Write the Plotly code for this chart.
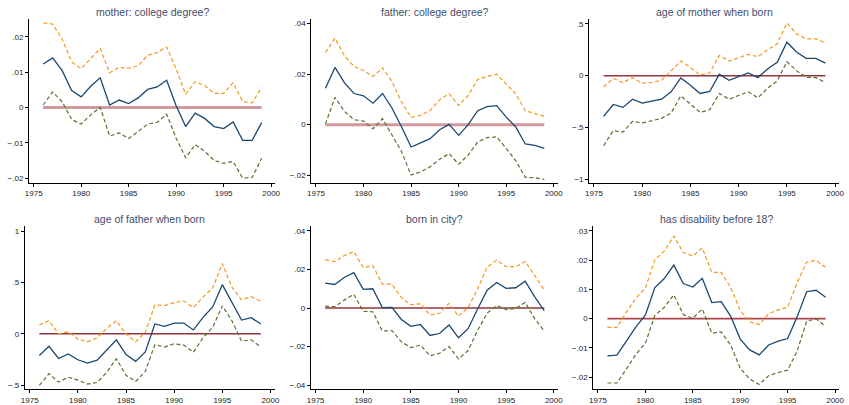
import plotly.graph_objects as go

years = list(range(1976, 2000))

titles = ["mother: college degree?", "father: college degree?", "age of mother when born",
          "age of father when born", "born in city?", "has disability before 18?"]

# panel 1: mother college degree
p1_est = [0.0123, 0.0140, 0.0104, 0.0048, 0.0030, 0.0060, 0.0084, 0.0007, 0.0021, 0.0011, 0.0027, 0.0051,
          0.0058, 0.0077, 0.0005, -0.0054, -0.0016, -0.0031, -0.0054, -0.0060, -0.0041, -0.0093, -0.0093, -0.0043]
p1_hi = [0.0239, 0.0236, 0.0193, 0.0129, 0.0110, 0.0139, 0.0167, 0.0098, 0.0114, 0.0111, 0.0118, 0.0148,
         0.0155, 0.0171, 0.0109, 0.0037, 0.0073, 0.0062, 0.0040, 0.0040, 0.0070, 0.0017, 0.0013, 0.0057]
p1_lo = [0.0007, 0.0044, 0.0016, -0.0034, -0.0047, -0.0021, 0.0000, -0.0081, -0.0072, -0.0088, -0.0068, -0.0047,
         -0.0042, -0.0019, -0.0087, -0.0142, -0.0105, -0.0124, -0.0150, -0.0158, -0.0153, -0.0200, -0.0198, -0.0144]

# panel 2: father college degree
p2_est = [0.0144, 0.0226, 0.0165, 0.0123, 0.0114, 0.0085, 0.0123, 0.0065, -0.0009, -0.0088, -0.0072, -0.0055,
          -0.0020, 0.0001, -0.0042, 0.0000, 0.0055, 0.0071, 0.0075, 0.0030, -0.0009, -0.0076, -0.0082, -0.0093]
p2_hi = [0.0285, 0.0341, 0.0272, 0.0230, 0.0214, 0.0190, 0.0224, 0.0170, 0.0089, 0.0029, 0.0037, 0.0056,
         0.0098, 0.0122, 0.0076, 0.0116, 0.0178, 0.0191, 0.0199, 0.0160, 0.0122, 0.0055, 0.0043, 0.0033]
p2_lo = [0.0003, 0.0108, 0.0052, 0.0020, 0.0014, -0.0016, 0.0024, -0.0042, -0.0107, -0.0199, -0.0186, -0.0166,
         -0.0136, -0.0114, -0.0156, -0.0120, -0.0068, -0.0051, -0.0048, -0.0094, -0.0142, -0.0208, -0.0209, -0.0216]

# panel 3: age of mother when born
p3_est = [-0.392, -0.278, -0.306, -0.227, -0.265, -0.249, -0.227, -0.156, -0.022, -0.093, -0.172, -0.153,
          0.013, -0.045, -0.006, 0.026, -0.019, 0.064, 0.128, 0.322, 0.227, 0.166, 0.166, 0.121]
p3_hi = [-0.108, -0.026, -0.067, -0.019, -0.073, -0.064, -0.045, 0.045, 0.140, 0.077, 0.006, 0.026,
         0.195, 0.140, 0.172, 0.204, 0.182, 0.249, 0.306, 0.507, 0.402, 0.354, 0.354, 0.316]
p3_lo = [-0.676, -0.530, -0.545, -0.440, -0.456, -0.437, -0.412, -0.360, -0.195, -0.274, -0.354, -0.329,
         -0.172, -0.227, -0.191, -0.156, -0.214, -0.121, -0.051, 0.134, 0.048, -0.016, -0.019, -0.067]

# panel 4: age of father when born
p4_est = [-0.211, -0.121, -0.240, -0.195, -0.252, -0.284, -0.256, -0.153, -0.058, -0.201, -0.268, -0.176,
          0.096, 0.073, 0.105, 0.105, 0.038, 0.160, 0.262, 0.479, 0.304, 0.134, 0.157, 0.096]
p4_hi = [0.086, 0.128, 0.000, 0.022, -0.051, -0.077, -0.038, 0.054, 0.128, 0.000, -0.077, 0.016,
         0.281, 0.275, 0.304, 0.319, 0.256, 0.358, 0.447, 0.684, 0.454, 0.332, 0.361, 0.319]
p4_lo = [-0.502, -0.387, -0.470, -0.422, -0.450, -0.489, -0.473, -0.374, -0.243, -0.403, -0.463, -0.367,
         -0.105, -0.128, -0.096, -0.109, -0.179, -0.038, 0.064, 0.272, 0.128, -0.070, -0.058, -0.128]

# panel 5: born in city
p5_est = [0.0129, 0.0122, 0.0158, 0.0183, 0.0097, 0.0100, 0.0002, 0.0003, -0.0059, -0.0095, -0.0085, -0.0142,
          -0.0132, -0.0088, -0.0154, -0.0107, -0.0005, 0.0092, 0.0132, 0.0102, 0.0105, 0.0139, 0.0058, -0.0014]
p5_hi = [0.0249, 0.0241, 0.0271, 0.0292, 0.0210, 0.0219, 0.0124, 0.0124, 0.0054, 0.0017, 0.0022, -0.0036,
         -0.0027, 0.0024, -0.0042, 0.0003, 0.0098, 0.0212, 0.0249, 0.0214, 0.0214, 0.0241, 0.0168, 0.0093]
p5_lo = [0.0010, 0.0007, 0.0041, 0.0071, -0.0017, -0.0019, -0.0119, -0.0117, -0.0175, -0.0205, -0.0192, -0.0247,
         -0.0234, -0.0200, -0.0263, -0.0220, -0.0115, -0.0027, 0.0012, -0.0008, -0.0002, 0.0029, -0.0056, -0.0119]

# panel 6: disability before 18
p6_est = [-0.0127, -0.0125, -0.0077, -0.0028, 0.0012, 0.0106, 0.0137, 0.0183, 0.0120, 0.0108, 0.0138, 0.0055,
          0.0058, 0.0008, -0.0070, -0.0107, -0.0124, -0.0090, -0.0077, -0.0068, 0.0006, 0.0092, 0.0097, 0.0073]
p6_hi = [-0.0030, -0.0030, 0.0022, 0.0070, 0.0104, 0.0201, 0.0231, 0.0282, 0.0226, 0.0214, 0.0242, 0.0158,
         0.0158, 0.0106, 0.0028, -0.0011, -0.0020, 0.0017, 0.0030, 0.0039, 0.0123, 0.0193, 0.0199, 0.0175]
p6_lo = [-0.0220, -0.0220, -0.0172, -0.0122, -0.0084, 0.0011, 0.0039, 0.0081, 0.0014, 0.0001, 0.0033, -0.0050,
         -0.0045, -0.0091, -0.0170, -0.0206, -0.0225, -0.0195, -0.0184, -0.0176, -0.0111, -0.0009, -0.0001, -0.0026]

x_ticks = [1975, 1980, 1985, 1990, 1995, 2000]
y_ticks = [
    [-0.02, -0.01, 0, 0.01, 0.02],
    [-0.02, 0, 0.02, 0.04],
    [-1, -0.5, 0, 0.5],
    [-0.5, 0, 0.5, 1],
    [-0.04, -0.02, 0, 0.02, 0.04],
    [-0.02, -0.01, 0, 0.01, 0.02, 0.03],
]
y_labels = [
    ["\u2212.02", "\u2212.01", "0", ".01", ".02"],
    ["\u2212.02", "0", ".02", ".04"],
    ["\u22121", "\u2212.5", "0", ".5"],
    ["\u2212.5", "0", ".5", "1"],
    ["\u2212.04", "\u2212.02", "0", ".02", ".04"],
    ["\u2212.02", "\u2212.01", "0", ".01", ".02", ".03"],
]
y_ranges = [[-0.0213, 0.0251], [-0.0229, 0.0418], [-1.032, 0.548],
            [-0.538, 1.048], [-0.042, 0.0424], [-0.0241, 0.0316]]

ests = [p1_est, p2_est, p3_est, p4_est, p5_est, p6_est]
his = [p1_hi, p2_hi, p3_hi, p4_hi, p5_hi, p6_hi]
los = [p1_lo, p2_lo, p3_lo, p4_lo, p5_lo, p6_lo]

W, H = 849, 405
# pixel geometry: (x of 1975 tick, x of 2000 tick, y top, y bottom)
geom = [(30, 270, 19, 185), (315.3, 555.7, 19, 185), (596.3, 840, 19, 185),
        (26, 269.3, 229, 394), (315, 555.7, 229, 394), (600.3, 840, 229, 394)]
zero_w = [3, 3, 1.5, 1.5, 1.5, 1.6]
zero_c = ["rgba(170,70,78,0.55)", "rgba(170,70,78,0.55)", "#90353b", "#90353b", "#90353b", "#b2424c"]

X0, X1 = 1974.5, 2000.45

fig = go.Figure()
annotations = []
for i in range(6):
    n = i + 1
    xa = "x" if n == 1 else f"x{n}"
    ya = "y" if n == 1 else f"y{n}"
    t1975, t2000, ytop, ybot = geom[i]
    ppy = (t2000 - t1975) / 25.0
    left = t1975 - (1975 - X0) * ppy
    right = t2000 + (X1 - 2000) * ppy
    fig.add_trace(go.Scatter(x=[years[0], years[-1]], y=[0, 0], mode="lines",
                             line=dict(color=zero_c[i], width=zero_w[i]),
                             xaxis=xa, yaxis=ya, showlegend=False, hoverinfo="skip"))
    fig.add_trace(go.Scatter(x=years, y=his[i], mode="lines",
                             line=dict(color="#f39a1f", width=1.2, dash="4px,2.5px"),
                             xaxis=xa, yaxis=ya, showlegend=False))
    fig.add_trace(go.Scatter(x=years, y=los[i], mode="lines",
                             line=dict(color="#55752f", width=1.2, dash="4px,2.5px"),
                             xaxis=xa, yaxis=ya, showlegend=False))
    fig.add_trace(go.Scatter(x=years, y=ests[i], mode="lines",
                             line=dict(color="#1a476f", width=1.3),
                             xaxis=xa, yaxis=ya, showlegend=False))
    axis_common = dict(showgrid=False, zeroline=False, showline=True, linecolor="#000000", linewidth=1,
                       ticks="outside", ticklen=3, tickcolor="#000000", tickwidth=1,
                       tickfont=dict(family="Liberation Sans, Arial, sans-serif", size=8, color="#222222"))
    fig.update_layout(**{
        ("xaxis" if n == 1 else f"xaxis{n}"): dict(
            domain=[left / W, right / W], range=[X0, X1], anchor=ya,
            tickvals=x_ticks, ticktext=[str(v) for v in x_ticks], **axis_common),
        ("yaxis" if n == 1 else f"yaxis{n}"): dict(
            domain=[1 - ybot / H, 1 - ytop / H], range=y_ranges[i], anchor=xa,
            tickvals=y_ticks[i], ticktext=y_labels[i], **axis_common),
    })
    annotations.append(dict(text=titles[i], x=(left + right) / 2 / W, y=1 - (ytop - 7) / H,
                            xref="paper", yref="paper", xanchor="center", yanchor="middle",
                            showarrow=False,
                            font=dict(family="Liberation Sans, Arial, sans-serif", size=10.5, color="#3f4d6e")))

fig.update_layout(width=W, height=H, autosize=False, margin=dict(l=0, r=0, t=0, b=0),
                  paper_bgcolor="white", plot_bgcolor="white", annotations=annotations,
                  showlegend=False)

fig.write_html("out.html", config={"displayModeBar": False},
               post_script="document.body.style.margin='0px';document.body.style.overflow='hidden';")
